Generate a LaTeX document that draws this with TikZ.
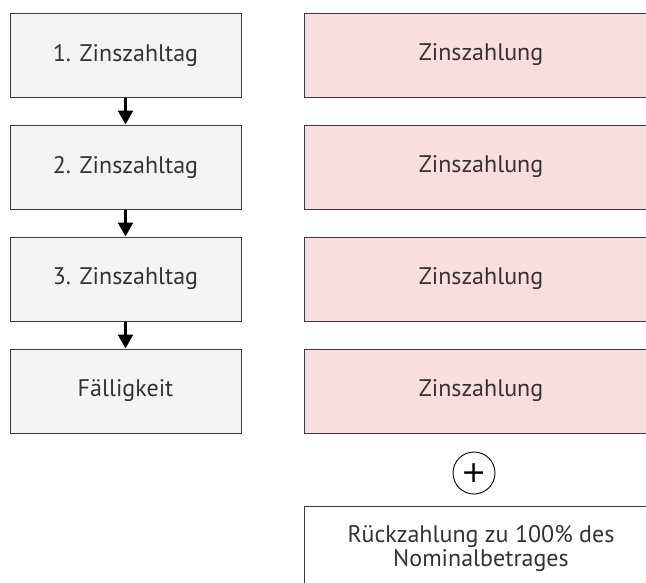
\documentclass[tikz,border=0pt]{standalone}
\usepackage{fontspec}
\setmainfont{PT Sans}
\newfontfamily\plusfont{DejaVu Sans}
\usetikzlibrary{arrows.meta,shapes}
\definecolor{boxgray}{HTML}{F4F4F4}
\definecolor{boxpink}{HTML}{F9DEDC}
\definecolor{textgray}{HTML}{333333}
\definecolor{framegray}{HTML}{3A3A3A}
\tikzstyle{line} = [draw, line width=2.4pt, -{Triangle[length=14pt,width=15pt]}]
\tikzstyle{termin} = [rectangle, draw=framegray, line width=1pt, fill=boxgray, minimum width=231pt, minimum height=84pt, text centered, node distance=112pt, text=textgray, font=\fontsize{24}{28}\selectfont]
\tikzstyle{zahlung} = [rectangle, draw=framegray, line width=1pt, fill=boxpink, minimum width=353pt, minimum height=84pt, text centered, node distance=355.5pt, text=textgray, font=\fontsize{24}{28}\selectfont]
\tikzstyle{rueck} = [rectangle, draw=framegray, line width=1pt, fill=white, minimum width=353pt, minimum height=84pt, align=center, text=textgray, font=\fontsize{24}{24}\selectfont]
\tikzstyle{round} = [draw, circle, line width=0.9pt, minimum size=42pt, inner sep=0pt, font=\plusfont\fontsize{30}{30}\selectfont]

\begin{document}
\begin{tikzpicture}
	\clip (0,0) rectangle (646pt,-582pt);
	\node [termin] at (125.5pt,-55pt) (tag1) {1. Zinszahltag};
	\node [termin, below of = tag1] (tag2) {2. Zinszahltag};
	\node [termin, below of = tag2] (tag3) {3. Zinszahltag};
	\node [termin, below of = tag3] (faellig) {Fälligkeit};
	\path [line] (tag1.south) to (tag2.north);
	\path [line] (tag2.south) to (tag3.north);
	\path [line] (tag3.south) to (faellig.north);
	
	\node [zahlung, right of = tag1] (zins1) {Zinszahlung};
	\node [zahlung, right of = tag2] (zins2) {Zinszahlung};
	\node [zahlung, right of = tag3] (zins3) {Zinszahlung};
	\node [zahlung, right of = faellig] (zins4) {Zinszahlung};
	
	\node [round, below of = zins4, node distance = 82pt, xshift = -7pt] (plus) {+};
	\node [rueck, below of = zins4, node distance = 157pt] (rueckzahlung) {Rückzahlung zu 100\% des\\Nominalbetrages};
\end{tikzpicture}
\end{document}
